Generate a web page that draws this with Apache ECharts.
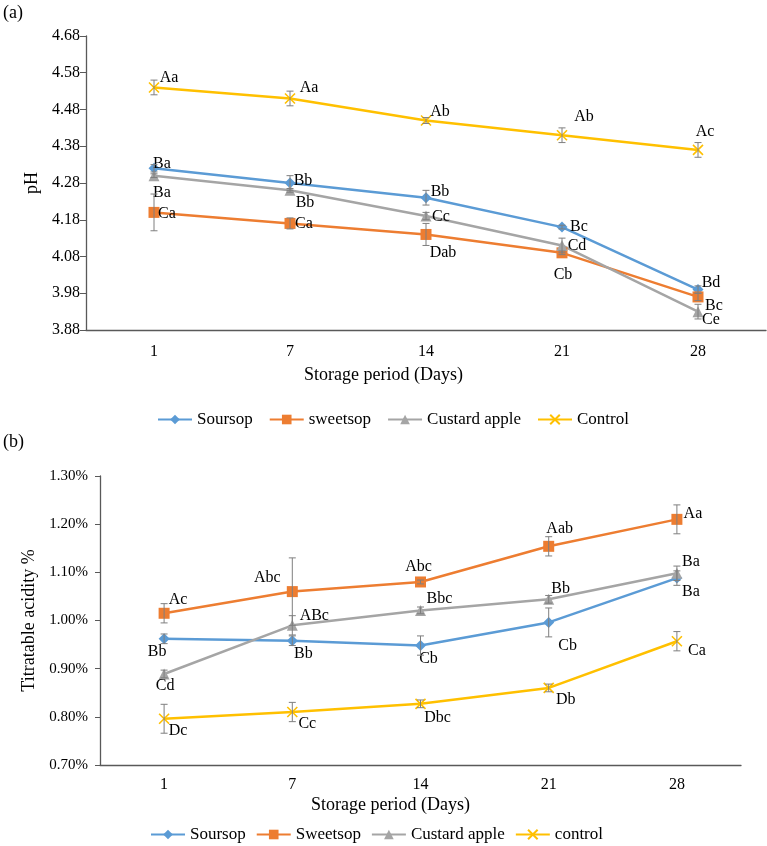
<!DOCTYPE html>
<html>
<head>
<meta charset="utf-8">
<script src="https://cdn.jsdelivr.net/npm/echarts@6/dist/echarts.min.js"></script>
<style>
  html, body { margin: 0; padding: 0; background: #fff; }
  #main { width: 767px; height: 846px; }
</style>
</head>
<body>
<div id="main"></div>
<script>
// storage days (x categories)
const days = ['1', '7', '14', '21', '28'];

// (a) pH
const phSoursop = [4.32, 4.28, 4.24, 4.16, 3.99];
const phSweetsop = [4.20, 4.17, 4.14, 4.09, 3.97];
const phCustard = [4.30, 4.26, 4.19, 4.11, 3.93];
const phControl = [4.54, 4.51, 4.45, 4.41, 4.37];
const phSoursopErr = [0.01, 0.02, 0.02, 0.005, 0.01];
const phSweetsopErr = [0.05, 0.015, 0.03, 0.005, 0.01];
const phCustardErr = [0.005, 0.005, 0.01, 0.02, 0.02];
const phControlErr = [0.02, 0.02, 0.008, 0.02, 0.02];
const phSoursopTxt = ['Ba', 'Bb', 'Bb', 'Bc', 'Bd'];
const phSweetsopTxt = ['Ca', 'Ca', 'Dab', 'Cb', 'Bc'];
const phCustardTxt = ['Ba', 'Bb', 'Cc', 'Cd', 'Ce'];
const phControlTxt = ['Aa', 'Aa', 'Ab', 'Ab', 'Ac'];

// (b) titratable acidity, %
const taSoursop = [0.962, 0.958, 0.948, 0.996, 1.088];
const taSweetsop = [1.015, 1.060, 1.080, 1.154, 1.210];
const taCustard = [0.889, 0.990, 1.021, 1.044, 1.098];
const taControl = [0.796, 0.810, 0.827, 0.860, 0.957];
const taSoursopErr = [0.01, 0.01, 0.02, 0.03, 0.015];
const taSweetsopErr = [0.02, 0.07, 0.004, 0.02, 0.03];
const taCustardErr = [0.008, 0.02, 0.007, 0.008, 0.015];
const taControlErr = [0.03, 0.02, 0.008, 0.008, 0.02];
const taSoursopTxt = ['Bb', 'Bb', 'Cb', 'Cb', 'Ba'];
const taSweetsopTxt = ['Ac', 'Abc', 'Abc', 'Aab', 'Aa'];
const taCustardTxt = ['Cd', 'ABc', 'Bbc', 'Bb', 'Ba'];
const taControlTxt = ['Dc', 'Cc', 'Dbc', 'Db', 'Ca'];

// label offsets from each point (px), layout only
const offs = {
  phSoursop: [[8, -5], [13, -2], [14, -6], [17, 0], [13, -7]],
  phSweetsop: [[13, 1], [14, 0], [17, 18], [1, 22], [16, 9]],
  phCustard: [[8, 17], [15, 12], [15, 1], [15, 0], [13, 8]],
  phControl: [[15, -10], [19, -11], [14, -9], [22, -18], [7, -18]],
  taSoursop: [[-7, 13], [11, 13], [8, 13], [19, 23], [14, 14]],
  taSweetsop: [[14, -13], [-25, -14], [-2, -15], [11, -18], [16, -6]],
  taCustard: [[1, 12], [22, -10], [19, -12], [12, -11], [14, -11]],
  taControl: [[14, 12], [15, 12], [17, 14], [17, 12], [20, 10]]
}

const FONT = 'Liberation Serif'
const C_SOUR = '#5B9BD5'
const C_SWEET = '#ED7D31'
const C_CUST = '#A5A5A5'
const C_CTRL = '#FFC000'
const X_MARK = 'path://M0,0L10,10M10,0L0,10'

function lineSeries (name, vals, txt, off, color, symbol, size, idx) {
  return {
    name: name,
    type: 'line',
    xAxisIndex: idx,
    yAxisIndex: idx,
    data: vals.map(function (v, i) {
      return { value: v, label: { offset: off[i] } }
    }),
    symbol: symbol,
    symbolSize: size,
    z: 2,
    lineStyle: { color: color, width: 2.5 },
    itemStyle: symbol === X_MARK
      ? { color: color, borderColor: color, borderWidth: 1.6 }
      : { color: color },
    label: {
      show: true,
      position: 'inside',
      color: '#000',
      fontFamily: FONT,
      fontSize: 16,
      formatter: function (p) { return txt[p.dataIndex] }
    },
    emphasis: { disabled: true }
  }
}

function errSeries (vals, err, idx) {
  return {
    type: 'custom',
    xAxisIndex: idx,
    yAxisIndex: idx,
    z: 3,
    silent: true,
    data: vals.map(function (v, i) { return [i, v - err[i], v + err[i]] }),
    encode: { x: 0, y: [1, 2] },
    renderItem: function (params, api) {
      const lo = api.coord([api.value(0), api.value(1)])
      const hi = api.coord([api.value(0), api.value(2)])
      const w = 3.5
      const st = { stroke: '#7F7F7F', lineWidth: 1 }
      return {
        type: 'group',
        children: [
          { type: 'line', shape: { x1: lo[0], y1: lo[1], x2: hi[0], y2: hi[1] }, style: st },
          { type: 'line', shape: { x1: lo[0] - w, y1: lo[1], x2: lo[0] + w, y2: lo[1] }, style: st },
          { type: 'line', shape: { x1: hi[0] - w, y1: hi[1], x2: hi[0] + w, y2: hi[1] }, style: st }
        ]
      }
    }
  }
}

const axisLine = { lineStyle: { color: '#595959', width: 1.3 } }
const txt = { fontFamily: FONT, color: '#000' }

const option = {
  animation: false,
  textStyle: { fontFamily: FONT },
  grid: [
    { left: 86, top: 36, right: 1, height: 294 },
    { left: 100, top: 476, right: 26, height: 289 }
  ],
  xAxis: [
    {
      type: 'category', gridIndex: 0, data: days,
      axisLine: axisLine, axisTick: { show: false },
      axisLabel: Object.assign({ fontSize: 16, margin: 14 }, txt)
    },
    {
      type: 'category', gridIndex: 1, data: days,
      axisLine: axisLine, axisTick: { show: false },
      axisLabel: Object.assign({ fontSize: 16, margin: 12 }, txt)
    }
  ],
  yAxis: [
    {
      type: 'value', gridIndex: 0, min: 3.88, max: 4.68, interval: 0.1,
      name: 'pH', nameLocation: 'middle', nameGap: 45,
      nameTextStyle: Object.assign({ fontSize: 18 }, txt),
      axisLine: Object.assign({ show: true }, axisLine),
      axisTick: { show: true, length: 6, lineStyle: { color: '#595959' } },
      splitLine: { show: false },
      axisLabel: Object.assign({ fontSize: 16, margin: 6, formatter: function (v) { return v.toFixed(2) } }, txt)
    },
    {
      type: 'value', gridIndex: 1, min: 0.7, max: 1.3, interval: 0.1,
      name: 'Titratable acidity %', nameLocation: 'middle', nameGap: 59,
      nameTextStyle: Object.assign({ fontSize: 18 }, txt),
      axisLine: Object.assign({ show: true }, axisLine),
      axisTick: { show: true, length: 5, lineStyle: { color: '#595959' } },
      splitLine: { show: false },
      axisLabel: Object.assign({ fontSize: 15, margin: 12, formatter: function (v) { return v.toFixed(2) + '%' } }, txt)
    }
  ],
  legend: [
    {
      data: ['Soursop', 'sweetsop', 'Custard apple', 'Control'],
      top: 406, left: 152, itemWidth: 34, itemHeight: 12, itemGap: 16,
      textStyle: Object.assign({ fontSize: 17 }, txt)
    },
    {
      data: ['Soursop', 'Sweetsop', 'Custard apple', 'control'],
      top: 821, left: 145, itemWidth: 34, itemHeight: 12, itemGap: 10,
      textStyle: Object.assign({ fontSize: 17 }, txt)
    }
  ],
  graphic: [
    { type: 'text', left: 3, top: 4, style: Object.assign({ text: '(a)', fontSize: 18 }, txt) },
    { type: 'text', left: 3, top: 433, style: Object.assign({ text: '(b)', fontSize: 18 }, txt) },
    { type: 'text', left: 304, top: 366, style: Object.assign({ text: 'Storage period (Days)', fontSize: 18 }, txt) },
    { type: 'text', left: 311, top: 796, style: Object.assign({ text: 'Storage period (Days)', fontSize: 18 }, txt) }
  ],
  series: [
    lineSeries('Soursop', phSoursop, phSoursopTxt, offs.phSoursop, C_SOUR, 'diamond', 11, 0),
    lineSeries('sweetsop', phSweetsop, phSweetsopTxt, offs.phSweetsop, C_SWEET, 'rect', 11, 0),
    lineSeries('Custard apple', phCustard, phCustardTxt, offs.phCustard, C_CUST, 'triangle', 11, 0),
    lineSeries('Control', phControl, phControlTxt, offs.phControl, C_CTRL, X_MARK, 10, 0),
    errSeries(phSoursop, phSoursopErr, 0),
    errSeries(phSweetsop, phSweetsopErr, 0),
    errSeries(phCustard, phCustardErr, 0),
    errSeries(phControl, phControlErr, 0),
    lineSeries('Soursop', taSoursop, taSoursopTxt, offs.taSoursop, C_SOUR, 'diamond', 11, 1),
    lineSeries('Sweetsop', taSweetsop, taSweetsopTxt, offs.taSweetsop, C_SWEET, 'rect', 11, 1),
    lineSeries('Custard apple', taCustard, taCustardTxt, offs.taCustard, C_CUST, 'triangle', 11, 1),
    lineSeries('control', taControl, taControlTxt, offs.taControl, C_CTRL, X_MARK, 10, 1),
    errSeries(taSoursop, taSoursopErr, 1),
    errSeries(taSweetsop, taSweetsopErr, 1),
    errSeries(taCustard, taCustardErr, 1),
    errSeries(taControl, taControlErr, 1)
  ]
}

const chart = echarts.init(document.getElementById('main'))
chart.setOption(option)
window.addEventListener('resize', function () { chart.resize() })
</script>
</body>
</html>
